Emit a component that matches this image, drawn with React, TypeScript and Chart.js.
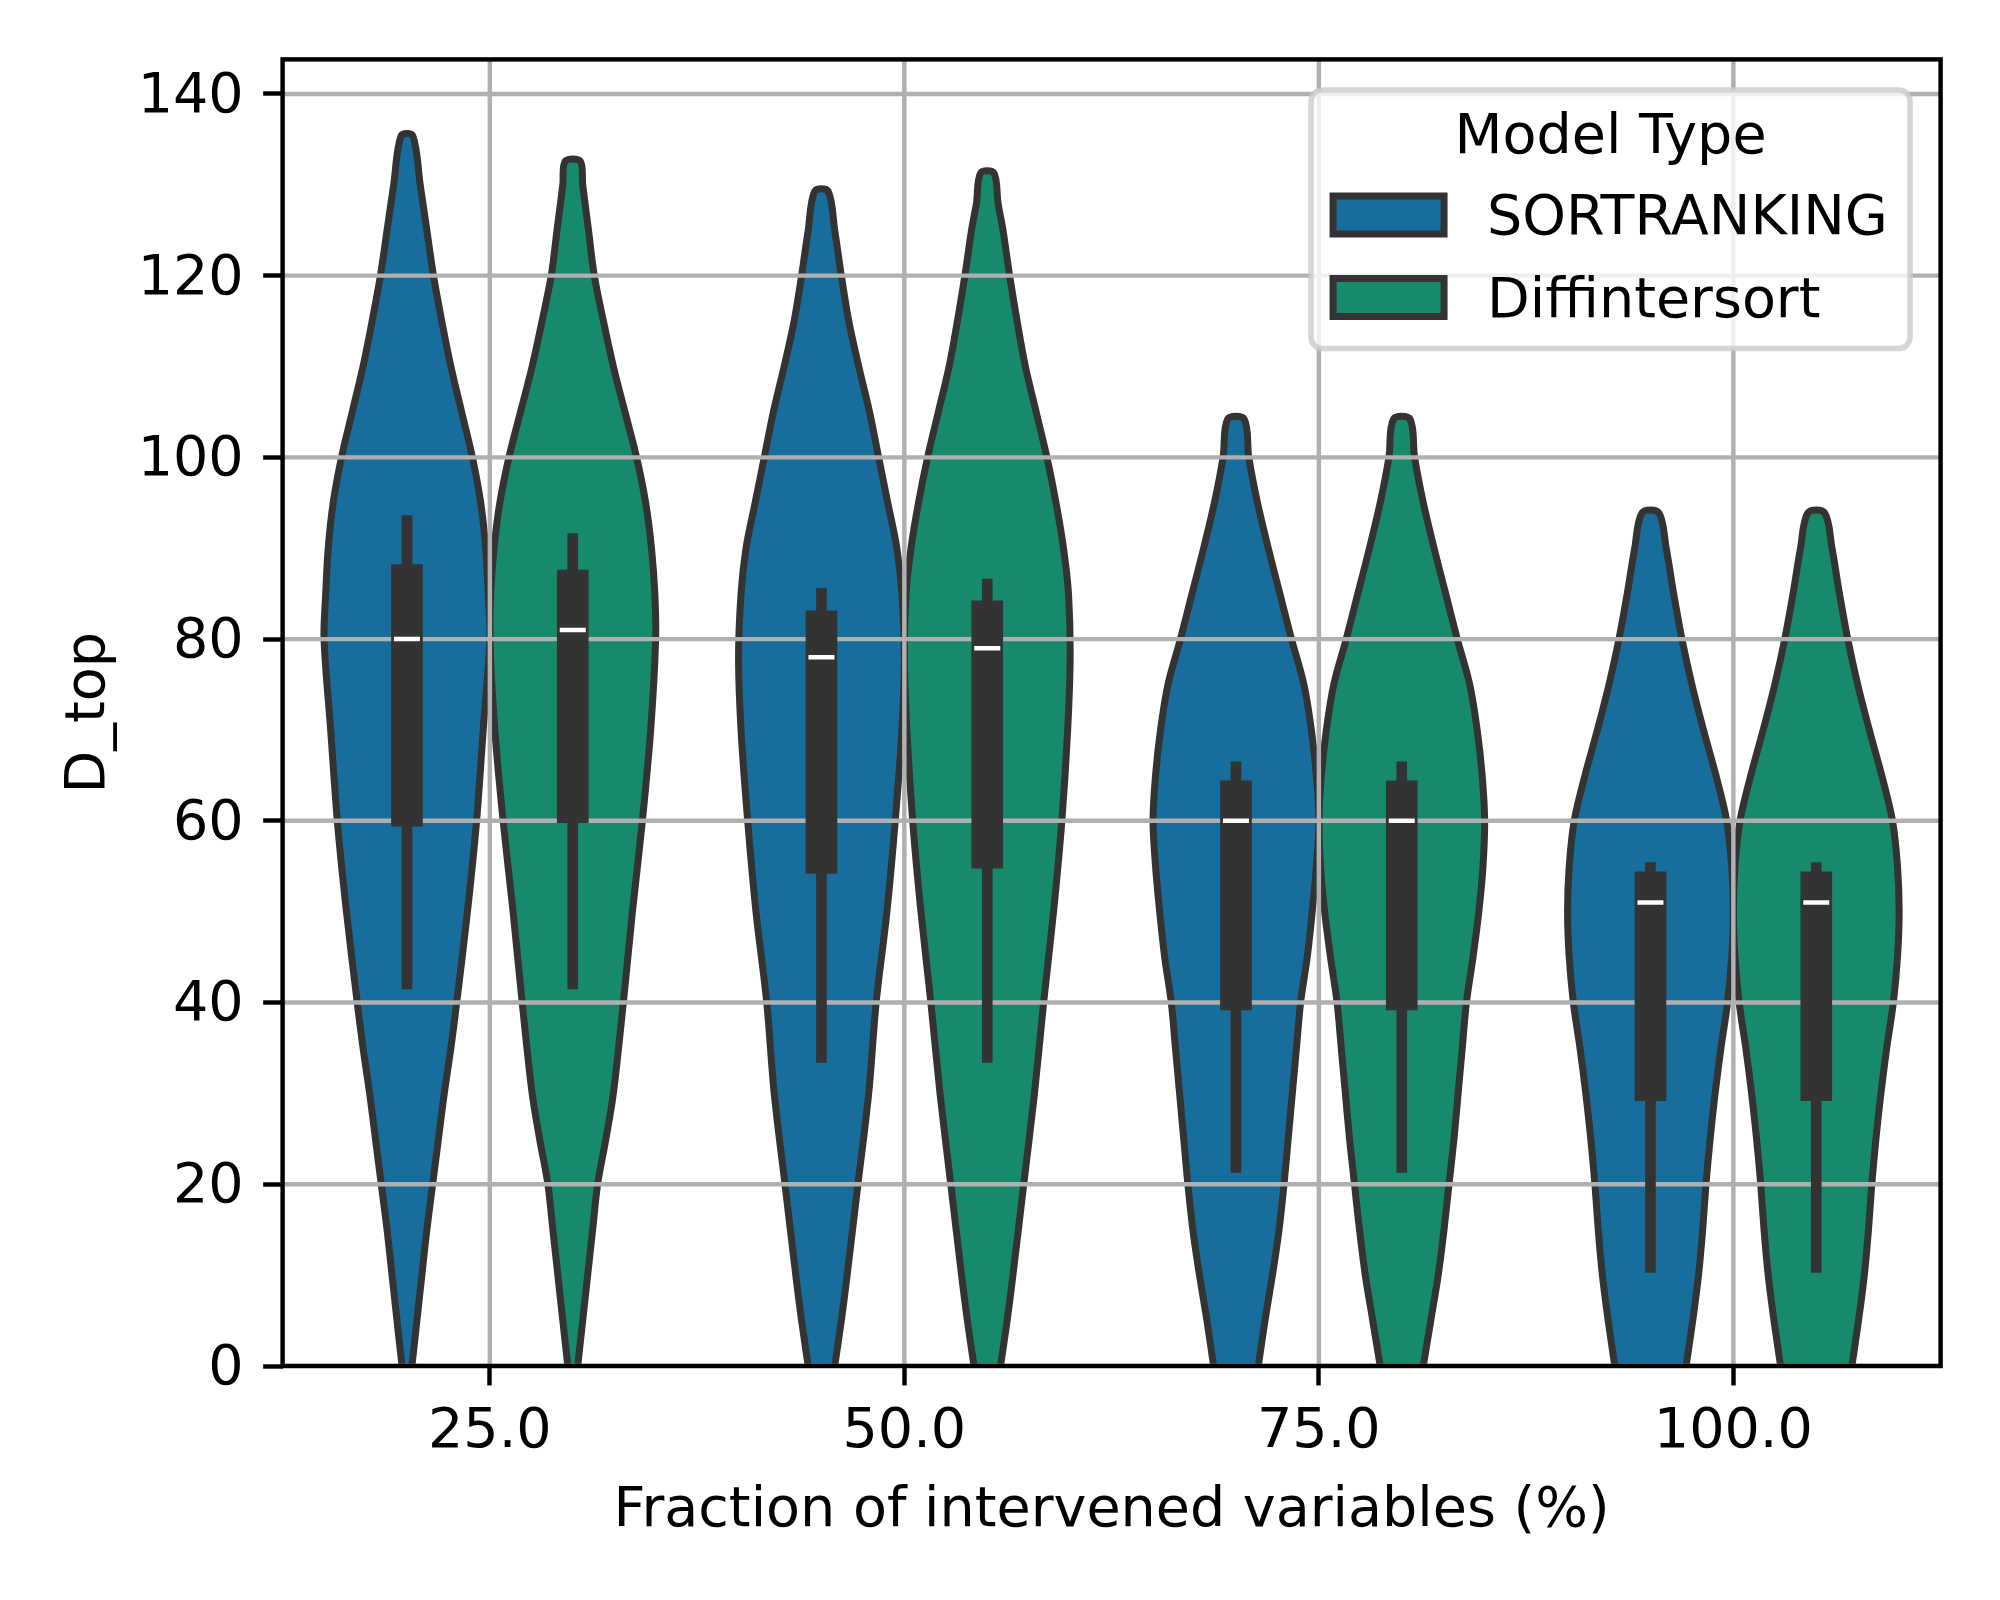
import React, { useEffect, useRef } from "react";
import { Chart, registerables } from "chart.js";

Chart.register(...registerables);

// ---------------- data ----------------
const categories = ["25.0", "50.0", "75.0", "100.0"];
const seriesNames = ["SORTRANKING", "Diffintersort"];
const seriesColors = ["#176D9C", "#168A6A"];
const xTickValues = [0, 1, 2, 3];
const yTickValues = [0, 20, 40, 60, 80, 100, 120, 140];
const yAxisMax = 143.8;

// violin outlines: [D_top value, half-width relative to the widest violin]
const sortranking25 = [[0, 0.06], [5, 0.12], [10, 0.18], [15, 0.24], [20, 0.31], [25, 0.38], [30, 0.45], [35, 0.53], [40, 0.6], [50, 0.73], [60, 0.84], [70, 0.92], [80, 1.0], [85, 0.98], [90, 0.95], [95, 0.89], [100, 0.79], [105, 0.66], [110, 0.53], [115, 0.42], [120, 0.32], [125, 0.24], [130, 0.16], [135.4, 0.07]];
const sortranking50 = [[0, 0.16], [5, 0.24], [10, 0.31], [20, 0.44], [30, 0.57], [40, 0.66], [50, 0.79], [60, 0.89], [70, 0.97], [78, 1.0], [85, 0.97], [90, 0.91], [95, 0.8], [100, 0.69], [105, 0.58], [110, 0.45], [115, 0.33], [120, 0.24], [125, 0.16], [129.3, 0.08]];
const sortranking75 = [[0, 0.27], [5, 0.35], [10, 0.44], [15, 0.52], [20, 0.58], [25, 0.63], [30, 0.68], [35, 0.73], [40, 0.78], [45, 0.86], [50, 0.92], [55, 0.97], [60, 1.0], [65, 0.97], [70, 0.91], [75, 0.82], [80, 0.67], [85, 0.53], [90, 0.39], [95, 0.26], [100, 0.155], [104.2, 0.1]];
const sortranking100 = [[0, 0.43], [5, 0.51], [10, 0.58], [15, 0.63], [20, 0.67], [25, 0.72], [30, 0.78], [35, 0.85], [40, 0.93], [45, 0.98], [50, 1.0], [55, 0.98], [60, 0.92], [65, 0.79], [70, 0.64], [75, 0.5], [80, 0.38], [85, 0.28], [90, 0.19], [93.9, 0.1]];

const diffintersort25 = [[0, 0.06], [5, 0.12], [10, 0.18], [15, 0.24], [20, 0.3], [25, 0.4], [30, 0.49], [40, 0.61], [50, 0.72], [60, 0.84], [70, 0.94], [80, 1.0], [85, 0.99], [90, 0.95], [95, 0.88], [100, 0.77], [105, 0.63], [110, 0.49], [115, 0.37], [120, 0.26], [125, 0.19], [130, 0.12], [132.6, 0.09]];
const diffintersort50 = [[0, 0.16], [5, 0.24], [10, 0.31], [20, 0.44], [30, 0.57], [40, 0.68], [50, 0.8], [60, 0.9], [70, 0.97], [78, 1.0], [85, 0.98], [90, 0.92], [95, 0.83], [100, 0.72], [105, 0.59], [110, 0.46], [115, 0.36], [120, 0.27], [125, 0.19], [128, 0.13], [131.3, 0.08]];
const diffintersort75 = [[0, 0.26], [5, 0.35], [10, 0.44], [15, 0.51], [20, 0.57], [25, 0.63], [30, 0.68], [35, 0.73], [40, 0.78], [45, 0.86], [50, 0.93], [55, 0.98], [60, 1.0], [65, 0.97], [70, 0.91], [75, 0.82], [80, 0.67], [85, 0.53], [90, 0.39], [95, 0.26], [100, 0.155], [104.2, 0.1]];
const diffintersort100 = [[0, 0.43], [5, 0.51], [10, 0.58], [15, 0.63], [20, 0.67], [25, 0.72], [30, 0.78], [35, 0.85], [40, 0.93], [45, 0.98], [50, 1.0], [55, 0.98], [60, 0.92], [65, 0.79], [70, 0.64], [75, 0.5], [80, 0.38], [85, 0.28], [90, 0.19], [93.9, 0.1]];

const sortrankingViolins = [sortranking25, sortranking50, sortranking75, sortranking100];
const diffintersortViolins = [diffintersort25, diffintersort50, diffintersort75, diffintersort100];

// inner box statistics
const sortrankingWhiskerLow = [41.5, 33.4, 21.3, 10.3];
const sortrankingQ1 = [59.4, 54.2, 39.2, 29.2];
const sortrankingMedian = [80, 78, 60, 51];
const sortrankingQ3 = [88.2, 83.1, 64.4, 54.4];
const sortrankingWhiskerHigh = [93.6, 85.6, 66.5, 55.4];

const diffintersortWhiskerLow = [41.5, 33.4, 21.3, 10.3];
const diffintersortQ1 = [59.8, 54.8, 39.2, 29.2];
const diffintersortMedian = [81, 79, 60, 51];
const diffintersortQ3 = [87.6, 84.2, 64.4, 54.4];
const diffintersortWhiskerHigh = [91.6, 86.6, 66.5, 55.4];

// ---------------- style ----------------
const PT = 400 / 72;
const FONT_PX = 10 * PT;
const FAMILY = "'DejaVu Sans', sans-serif";
const OUTLINE = "#333333";
const GRID = "#b0b0b0";
const AX_LW = 0.8 * PT;
const VIOLIN_LW = 7;
const VIOLIN_HALF = 0.2;
const DODGE = [-0.2, 0.2];

const violinGroups = [sortrankingViolins, diffintersortViolins];
const boxStats = [
  { lo: sortrankingWhiskerLow, q1: sortrankingQ1, med: sortrankingMedian, q3: sortrankingQ3, hi: sortrankingWhiskerHigh },
  { lo: diffintersortWhiskerLow, q1: diffintersortQ1, med: diffintersortMedian, q3: diffintersortQ3, hi: diffintersortWhiskerHigh },
];

function buildDatasets() {
  const ds: any[] = [];
  violinGroups.forEach((profiles, s) => {
    profiles.forEach((profile, c) => {
      const center = xTickValues[c] + DODGE[s];
      const left = profile.map(([v, w]) => ({ x: center - w * VIOLIN_HALF, y: v }));
      const right = [...profile].reverse().map(([v, w]) => ({ x: center + w * VIOLIN_HALF, y: v }));
      ds.push({
        type: "scatter",
        role: "violin",
        label: seriesNames[s],
        data: [...left, ...right],
        showLine: true,
        fill: "shape",
        backgroundColor: seriesColors[s],
        borderColor: OUTLINE,
        borderWidth: VIOLIN_LW,
        pointRadius: 0,
        tension: 0.33,
        clip: 0,
        order: 3,
      });
    });
  });
  boxStats.forEach((st, s) => {
    ds.push({
      type: "bar",
      role: "box",
      data: categories.map((_, c) => ({ x: xTickValues[c] + DODGE[s], y: [st.lo[c], st.hi[c]] })),
      backgroundColor: OUTLINE,
      barThickness: 10,
      grouped: false,
      borderWidth: 0,
      order: 2,
    });
    ds.push({
      type: "bar",
      role: "box",
      data: categories.map((_, c) => ({ x: xTickValues[c] + DODGE[s], y: [st.q1[c], st.q3[c]] })),
      backgroundColor: OUTLINE,
      barThickness: 31,
      grouped: false,
      borderWidth: 0,
      order: 1,
    });
    ds.push({
      type: "scatter",
      role: "box",
      data: categories.map((_, c) => ({ x: xTickValues[c] + DODGE[s], y: st.med[c] })),
      showLine: false,
      pointStyle: "line",
      pointRadius: 13,
      pointBorderWidth: 4.5,
      pointBorderColor: "#ffffff",
      pointBackgroundColor: "#ffffff",
      order: 0,
    });
  });
  return ds;
}

const mplPlugin = {
  id: "mplDecor",
  beforeDatasetsDraw(chart: any) {
    chart.$gridDone = false;
  },
  beforeDatasetDraw(chart: any, args: any) {
    const ds = chart.data.datasets[args.index];
    if (ds.role === "violin" || chart.$gridDone) return;
    chart.$gridDone = true;
    const { ctx, chartArea, scales } = chart;
    ctx.save();
    ctx.beginPath();
    ctx.rect(chartArea.left, chartArea.top, chartArea.right - chartArea.left, chartArea.bottom - chartArea.top);
    ctx.clip();
    ctx.strokeStyle = GRID;
    ctx.lineWidth = AX_LW;
    ctx.lineCap = "butt";
    yTickValues.forEach((v) => {
      const y = scales.y.getPixelForValue(v);
      ctx.beginPath();
      ctx.moveTo(chartArea.left, y);
      ctx.lineTo(chartArea.right, y);
      ctx.stroke();
    });
    xTickValues.forEach((v) => {
      const x = scales.x.getPixelForValue(v);
      ctx.beginPath();
      ctx.moveTo(x, chartArea.top);
      ctx.lineTo(x, chartArea.bottom);
      ctx.stroke();
    });
    ctx.restore();
  },
  afterDatasetsDraw(chart: any) {
    const { ctx, chartArea } = chart;
    ctx.save();
    ctx.strokeStyle = "#000000";
    ctx.lineWidth = AX_LW;
    ctx.lineJoin = "miter";
    ctx.strokeRect(chartArea.left, chartArea.top, chartArea.right - chartArea.left, chartArea.bottom - chartArea.top);
    ctx.restore();
  },
  afterDraw(chart: any) {
    const { ctx, chartArea } = chart;
    const inset = 0.5 * FONT_PX + 0.5 * PT;
    const w = 599;
    const h = 258.5;
    const R = chartArea.right - inset;
    const T = chartArea.top + inset;
    const L = R - w;
    ctx.save();
    ctx.beginPath();
    ctx.roundRect(L, T, w, h, 0.2 * FONT_PX);
    ctx.fillStyle = "rgba(255,255,255,0.8)";
    ctx.fill();
    ctx.strokeStyle = "rgba(204,204,204,0.8)";
    ctx.lineWidth = PT;
    ctx.stroke();
    ctx.font = `${FONT_PX}px ${FAMILY}`;
    ctx.fillStyle = "#000000";
    ctx.textBaseline = "alphabetic";
    ctx.textAlign = "center";
    ctx.fillText("Model Type", L + w / 2, T + 62.7);
    ctx.textAlign = "left";
    seriesNames.forEach((name, i) => {
      const cy = T + 125 + i * 82.5;
      ctx.beginPath();
      ctx.rect(L + 22, cy - 19, 111, 38);
      ctx.fillStyle = seriesColors[i];
      ctx.fill();
      ctx.strokeStyle = OUTLINE;
      ctx.lineWidth = VIOLIN_LW;
      ctx.stroke();
      ctx.fillStyle = "#000000";
      ctx.fillText(name, L + 176, cy + 19.4);
    });
    ctx.restore();
  },
};

export default function App() {
  const ref = useRef<HTMLCanvasElement | null>(null);
  useEffect(() => {
    if (!ref.current) return;
    const font = { family: FAMILY, size: FONT_PX };
    const chart = new Chart(ref.current, {
      type: "scatter",
      data: { datasets: buildDatasets() as any },
      options: {
        responsive: false,
        maintainAspectRatio: false,
        animation: false,
        devicePixelRatio: 1,
        events: [],
        layout: { padding: { top: 59.4, right: 59.4, left: 0, bottom: 0 } },
        plugins: {
          legend: { display: false },
          tooltip: { enabled: false },
          filler: { propagate: false },
        },
        scales: {
          x: {
            type: "linear",
            min: -0.5,
            max: 3.5,
            offset: false,
            afterBuildTicks: (s: any) => {
              s.ticks = xTickValues.map((v) => ({ value: v }));
            },
            afterFit: (s: any) => {
              s.height = 234;
            },
            ticks: {
              callback: (_v: any, i: number) => categories[i],
              padding: 13.5,
              maxRotation: 0,
              minRotation: 0,
              autoSkip: false,
              font,
              color: "#000000",
            },
            grid: {
              display: true,
              offset: false,
              drawOnChartArea: false,
              color: "rgba(0,0,0,0)",
              tickColor: "#000000",
              tickLength: 3.5 * PT,
              tickWidth: AX_LW,
            },
            border: { display: false },
            title: {
              display: true,
              text: "Fraction of intervened variables (%)",
              font,
              color: "#000000",
              padding: { top: 0, bottom: 55.5 },
            },
          },
          y: {
            type: "linear",
            min: 0,
            max: yAxisMax,
            offset: false,
            afterBuildTicks: (s: any) => {
              s.ticks = yTickValues.map((v) => ({ value: v }));
            },
            afterFit: (s: any) => {
              s.width = 282.6;
            },
            ticks: {
              callback: (v: any) => String(v),
              padding: 3.5 * PT,
              labelOffset: 3.5,
              autoSkip: false,
              font,
              color: "#000000",
            },
            grid: {
              display: true,
              offset: false,
              drawOnChartArea: false,
              color: "rgba(0,0,0,0)",
              tickColor: "#000000",
              tickLength: 3.5 * PT,
              tickWidth: AX_LW,
            },
            border: { display: false },
            title: {
              display: true,
              text: "D_top",
              font,
              color: "#000000",
              padding: { top: 56.6, bottom: 0 },
            },
          },
        },
      } as any,
      plugins: [mplPlugin as any],
    });
    return () => chart.destroy();
  }, []);
  return (
    <div style={{ position: "absolute", left: 0, top: 0, width: 2000, height: 1600, background: "#ffffff" }}>
      <canvas ref={ref} width={2000} height={1600} style={{ display: "block" }} />
    </div>
  );
}
